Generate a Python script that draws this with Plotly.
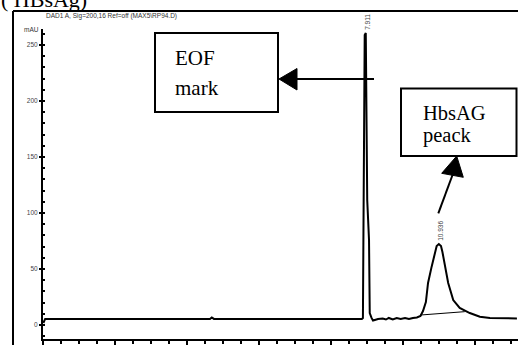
import plotly.graph_objects as go

# ---- data (time in min, signal in mAU) ----
time_min = [0.01, 0.06, 4.64, 4.69, 4.75, 8.86, 8.89, 8.92, 8.94, 8.97, 8.99, 9.01, 9.06, 9.06,
            9.08, 9.13, 9.17, 9.22, 9.31, 9.44, 9.53, 9.61, 9.72, 9.83, 9.94, 10.06, 10.17,
            10.28, 10.39, 10.49, 10.56, 10.64, 10.70, 10.80, 10.89, 10.94, 11.00, 11.06,
            11.10, 11.17, 11.26, 11.40, 11.58, 11.86, 12.14, 12.42, 13.17]
signal_mau = [1.8, 5.4, 5.4, 6.7, 5.4, 5.4, 6.3, 129.5, 259.0, 260.7, 178.6, 111.6, 75.9, 15.2,
              10.7, 6.3, 4.0, 4.5, 5.4, 5.8, 4.9, 6.3, 4.9, 6.3, 5.4, 6.3, 5.4,
              6.3, 6.7, 8.0, 12.5, 20.5, 37.5, 52.1, 65.2, 70.5, 72.3, 70.5,
              65.2, 52.1, 37.5, 22.3, 15.2, 10.7, 7.4, 6.3, 5.8]
integ_base_t = [10.49, 11.72]
integ_base_y = [8.9, 11.9]
peak_labels = ["7.911", "10.936"]
peak_t = [8.97, 11.00]
peak_y = [260.7, 72.3]
y_ticks = [0, 50, 100, 150, 200, 250]

W, H = 518, 345
L, R, T, B = 43, 0, 29, 6
PW, PH = W - L - R, H - T - B


def px(x, y):
    return (x - L) / PW, (H - B - y) / PH


fig = go.Figure()
fig.add_trace(go.Scatter(x=time_min, y=signal_mau, mode="lines",
                         line=dict(color="black", width=2), hoverinfo="skip"))
fig.add_trace(go.Scatter(x=integ_base_t, y=integ_base_y, mode="lines",
                         line=dict(color="black", width=1), hoverinfo="skip"))

shapes = []
# outer frame lines
x0, y0 = px(13, 11)
x1, y1 = px(518, 11)
shapes.append(dict(type="line", xref="paper", yref="paper", x0=x0, y0=y0, x1=x1, y1=y1,
                   line=dict(color="black", width=2)))
x2, y2 = px(13, 345)
shapes.append(dict(type="line", xref="paper", yref="paper", x0=x0, y0=y0, x1=x2, y1=y2,
                   line=dict(color="black", width=2)))
# boxes
for (a, b, c, d) in [(155, 33, 278, 112), (401, 88.5, 516.5, 156)]:
    xa, ya = px(a, b)
    xc, yc = px(c, d)
    shapes.append(dict(type="rect", xref="paper", yref="paper", x0=xa, y0=ya, x1=xc, y1=yc,
                       line=dict(color="black", width=2), fillcolor="rgba(0,0,0,0)"))
# arrows
for (s, e, tri) in [((374, 79), (296, 79), [(279, 79), (297, 68.5), (297, 90)]),
                    ((438.3, 213.3), (452.5, 175), [(456.7, 156), (441.7, 173.3), (463.3, 177.3)])]:
    xs, ys = px(*s)
    xe, ye = px(*e)
    shapes.append(dict(type="line", xref="paper", yref="paper", x0=xs, y0=ys, x1=xe, y1=ye,
                       line=dict(color="black", width=2)))
    pts = [px(*p) for p in tri]
    path = "M{},{} L{},{} L{},{} Z".format(pts[0][0], pts[0][1], pts[1][0], pts[1][1],
                                           pts[2][0], pts[2][1])
    shapes.append(dict(type="path", xref="paper", yref="paper", path=path,
                       fillcolor="black", line=dict(color="black", width=1)))

annotations = []
serif = "Liberation Serif"
sans = "Liberation Sans"
for txt, xx, yy, fs in [("EOF", 173, 58, 21), ("mark", 173, 88, 21),
                        ("HbsAG", 421, 113, 20.5), ("peack", 421, 135, 20.5),
                        ("( HBsAg)", -1, -1, 22)]:
    xp, yp = px(xx, yy)
    annotations.append(dict(text=txt, xref="paper", yref="paper", x=xp, y=yp,
                            xanchor="left", yanchor="middle", showarrow=False,
                            font=dict(family=serif, size=fs, color="black")))
xp, yp = px(44, 15.5)
annotations.append(dict(text="DAD1 A, Sig=200,16 Ref=off (MAX5\\RP94.D)", xref="paper", yref="paper",
                        x=xp, y=yp, xanchor="left", yanchor="middle", showarrow=False,
                        font=dict(family=sans, size=6.5, color="#333")))
xp, yp = px(41, 29.5)
annotations.append(dict(text="mAU", xref="paper", yref="paper", x=xp, y=yp,
                        xanchor="right", yanchor="middle", showarrow=False,
                        font=dict(family=sans, size=6.5, color="#333")))
for lab, t, v in zip(peak_labels, peak_t, peak_y):
    annotations.append(dict(text=lab, x=t, y=v, xref="x", yref="y", textangle=-90,
                            xanchor="center", yanchor="bottom", yshift=1, xshift=1,
                            showarrow=False, font=dict(family=sans, size=6.5, color="#444")))

fig.update_layout(
    width=W, height=H, margin=dict(l=L, r=R, t=T, b=B, autoexpand=False),
    paper_bgcolor="white", plot_bgcolor="white", showlegend=False,
    shapes=shapes, annotations=annotations,
    xaxis=dict(range=[0, 13.2], showgrid=False, zeroline=False, showline=True,
               linecolor="black", linewidth=2, ticks="outside", ticklen=4, tickwidth=1.5,
               tickcolor="black", tickvals=[0, 2, 4, 6, 8, 10, 12], showticklabels=False,
               minor=dict(ticks="outside", ticklen=3, tickwidth=1.5, tickcolor="black", dtick=0.5,
                          tick0=0)),
    yaxis=dict(range=[-12.5, 264.3], showgrid=False, zeroline=False, showline=True,
               linecolor="black", linewidth=2, ticks="outside", ticklen=2, tickwidth=1.5,
               tickcolor="black", tickvals=y_ticks, ticktext=[str(v) for v in y_ticks],
               tickfont=dict(family=sans, size=6.5, color="#444"),
               minor=dict(ticks="inside", ticklen=2, tickwidth=1.5, tickcolor="black", dtick=10,
                          tick0=0)),
)

fig.write_html("out.html", config={"displayModeBar": False})

# remove the default page margin so the figure sits at the window's top-left corner
with open("out.html", "r", encoding="utf-8") as f:
    html = f.read()
html = html.replace("<head>", "<head><style>html,body{margin:0;padding:0;overflow:hidden;}</style>", 1)
with open("out.html", "w", encoding="utf-8") as f:
    f.write(html)
